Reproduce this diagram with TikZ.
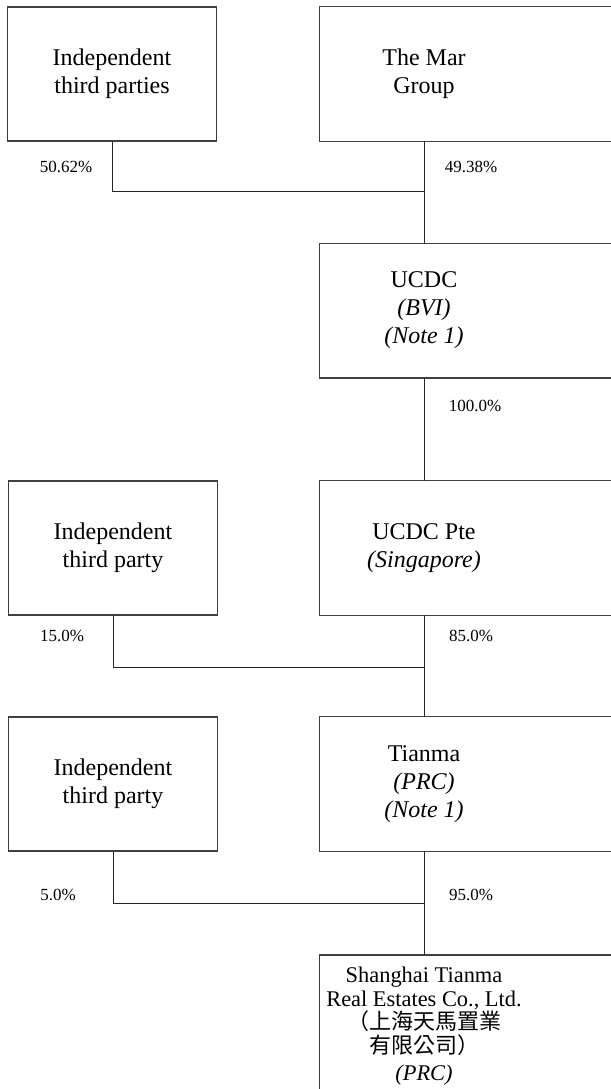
\documentclass[tikz,border=0pt]{standalone}
\usepackage{fontspec}
\setmainfont{Liberation Serif}
\newfontfamily\cjkfont{Noto Sans CJK TC}
\usetikzlibrary{positioning}
\tikzset{
  holdbox/.style={
    draw=black!75, line width=0.6pt,
    minimum width=104.5pt, minimum height=67pt,
    align=center, font=\fontsize{12}{14}\selectfont
  },
  openbox/.style={
    minimum width=104pt, minimum height=67pt,
    align=center, font=\fontsize{12}{14}\selectfont
  },
  boxline/.style={draw=black!75, line width=0.6pt},
  share/.style={font=\fontsize{8.5}{10}\selectfont},
  link/.style={black!85, line width=0.5pt},
}

\begin{document}
\begin{tikzpicture}[x=0.5pt, y=-0.5pt]
  \useasboundingbox (0,0) rectangle (611,1089);
  \clip (0,0) rectangle (611,1089);

  % left column
  \node[holdbox] (indA) at (112,74) {Independent\\ third parties};
  \node[holdbox] (indC) at (113,548) {Independent\\ third party};
  \node[holdbox] (indD) at (113,784) {Independent\\ third party};

  % right column, boxes run off the page
  \node[openbox] (mar) at (424,74) {The Mar\\ Group};
  \node[openbox] (ucdc) at (424,310.5) {UCDC\\ \textit{(BVI)}\\ \textit{(Note 1)}};
  \node[openbox] (pte) at (424,548) {UCDC Pte\\ \textit{(Singapore)}};
  \node[openbox] (tianma) at (424,784) {Tianma\\ \textit{(PRC)}\\ \textit{(Note 1)}};
  \node[openbox, anchor=north, minimum height=0pt, inner ysep=6pt, inner xsep=0pt,
        font=\fontsize{11.2}{11.75}\selectfont] (stre) at (424,955) {%
    Shanghai Tianma\\
    Real Estates Co., Ltd.\\
    {\cjkfont\fontsize{11}{11.75}\selectfont （上海天馬置業}\\
    {\cjkfont\fontsize{11}{11.75}\selectfont 有限公司）}\\[2pt]
    \textit{(PRC)}};

  \foreach \n in {mar,ucdc,pte,tianma}
    \draw[boxline] (\n.north west) rectangle ([xshift=80pt]\n.south east);
  \draw[boxline] (stre.north west) rectangle ([xshift=80pt,yshift=-40pt]stre.south east);

  % junctions
  \coordinate (j1) at (424,191);
  \coordinate (j2) at (424,667);
  \coordinate (j3) at (424,903);

  \draw[link] (indA.south) |- (j1);
  \draw[link] (mar.south) -- (ucdc.north);
  \draw[link] (ucdc.south) -- (pte.north);
  \draw[link] (indC.south) |- (j2);
  \draw[link] (pte.south) -- (tianma.north);
  \draw[link] (indD.south) |- (j3);
  \draw[link] (tianma.south) -- (stre.north);

  % shareholdings
  \node[share] (pA) at (66,167) {50.62\%};
  \node[share] (pB) at (471,167) {49.38\%};
  \node[share] (pU) at (475,406) {100.0\%};
  \node[share] (pC) at (62,636) {15.0\%};
  \node[share] (pP) at (471,636) {85.0\%};
  \node[share] (pD) at (58,895) {5.0\%};
  \node[share] (pT) at (471,895) {95.0\%};
\end{tikzpicture}
\end{document}
